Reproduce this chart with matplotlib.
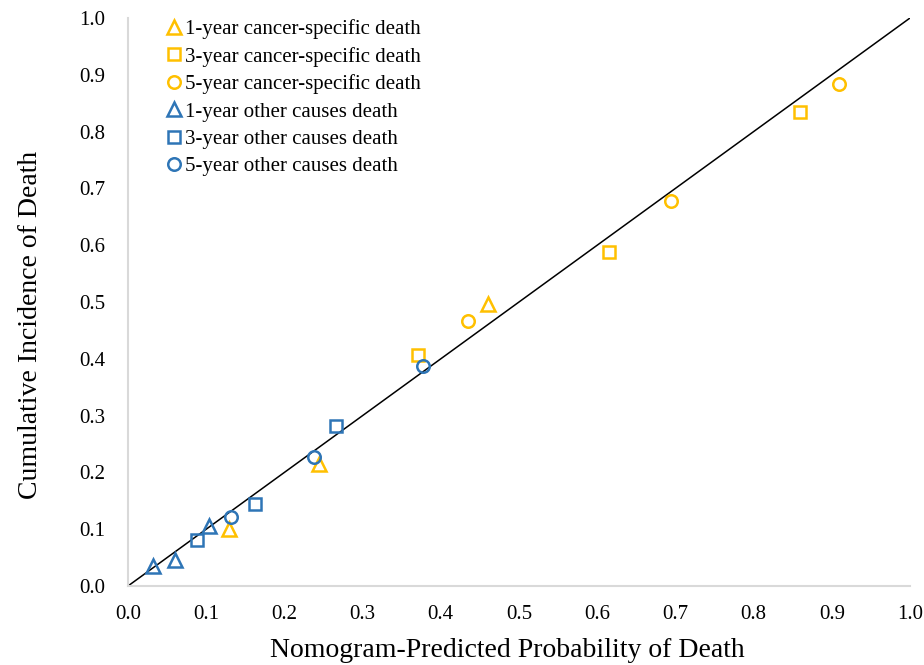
import matplotlib
matplotlib.use("Agg")
import matplotlib.pyplot as plt
import numpy as np

plt.rcParams['font.family'] = ['Liberation Serif', 'DejaVu Serif']

YELLOW = '#FFC000'
BLUE = '#2E75B6'

series_names = [
    "1-year cancer-specific death",
    "3-year cancer-specific death",
    "5-year cancer-specific death",
    "1-year other causes death",
    "3-year other causes death",
    "5-year other causes death",
]
cs1_x = [0.129, 0.244, 0.460]
cs1_y = [0.100, 0.215, 0.496]
cs3_x = [0.371, 0.615, 0.859]
cs3_y = [0.407, 0.588, 0.835]
cs5_x = [0.435, 0.694, 0.909]
cs5_y = [0.467, 0.678, 0.884]
oc1_x = [0.032, 0.060, 0.104]
oc1_y = [0.035, 0.046, 0.106]
oc3_x = [0.088, 0.162, 0.266]
oc3_y = [0.081, 0.144, 0.282]
oc5_x = [0.132, 0.238, 0.377]
oc5_y = [0.121, 0.227, 0.387]

ticks = [0.0, 0.1, 0.2, 0.3, 0.4, 0.5, 0.6, 0.7, 0.8, 0.9, 1.0]
tick_labels = [f"{t:.1f}" for t in ticks]

fig = plt.figure(figsize=(9.24, 6.65), dpi=100)
ax = fig.add_axes([128/924, 1-586/665, (910-128)/924, (586-18)/665])

ax.plot([0, 1], [0, 1], color='black', lw=1.1, zorder=1)

data = [
    (cs1_x, cs1_y, '^', YELLOW),
    (cs3_x, cs3_y, 's', YELLOW),
    (cs5_x, cs5_y, 'o', YELLOW),
    (oc1_x, oc1_y, '^', BLUE),
    (oc3_x, oc3_y, 's', BLUE),
    (oc5_x, oc5_y, 'o', BLUE),
]
for (xs, ys, m, c), name in zip(data, series_names):
    ms = 9.5 if m == '^' else 9
    ax.plot(xs, ys, linestyle='none', marker=m, markersize=ms,
            markerfacecolor='none', markeredgecolor=c, markeredgewidth=1.8,
            label=name, zorder=3)

ax.set_xlim(0, 1)
ax.set_ylim(0, 1)
ax.set_xticks(ticks)
ax.set_xticklabels(tick_labels)
ax.set_yticks(ticks)
ax.set_yticklabels(tick_labels)
ax.tick_params(axis='both', length=0, labelsize=15)
ax.tick_params(axis='x', pad=14)
ax.tick_params(axis='y', pad=16.5)
for s in ['top', 'right']:
    ax.spines[s].set_visible(False)
for s in ['left', 'bottom']:
    ax.spines[s].set_color('#d9d9d9')
    ax.spines[s].set_linewidth(1.5)

ax.set_xlabel("Nomogram-Predicted Probability of Death", fontsize=20)
ax.set_ylabel("Cumulative Incidence of Death", fontsize=20)
ax.xaxis.set_label_coords(0.4853, -0.0915)
ax.yaxis.set_label_coords(-0.1087, 0.4595)

leg = ax.legend(loc='upper left', bbox_to_anchor=(0.035, 1.013), frameon=False,
                fontsize=15, handletextpad=0.0, handlelength=1.0,
                labelspacing=0.375, borderaxespad=0)

fig.savefig("out.png", dpi=100)
